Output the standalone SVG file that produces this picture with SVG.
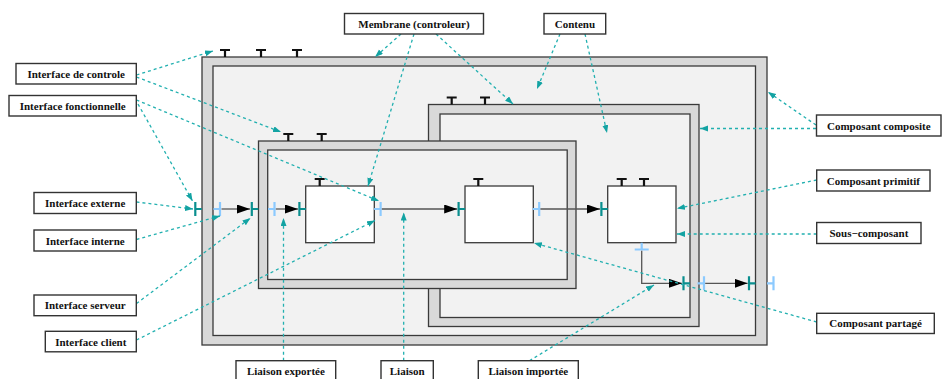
<svg xmlns="http://www.w3.org/2000/svg" width="943" height="379" viewBox="0 0 943 379">
<style>
.band{fill:#d9d9d9;stroke:#3a3a3a;stroke-width:1.3}
.inner{fill:#f2f2f2;stroke:#3a3a3a;stroke-width:1.3}
.prim{fill:#ffffff;stroke:#3a3a3a;stroke-width:1.3}
.bind{fill:none;stroke:#555;stroke-width:1.3;marker-end:url(#arr)}
.ann{fill:none;stroke:#22b0b0;stroke-width:1.3;stroke-dasharray:3,3;marker-end:url(#tarr)}
.lbl{fill:#fff;stroke:#333;stroke-width:1.4}
.txt{font-family:"Liberation Serif","Times New Roman",serif;font-weight:bold;font-size:11px;fill:#111;text-anchor:middle}
.srv{stroke:#0a8f8f;stroke-width:2.2;fill:none}
.cli{stroke:#8ccaff;stroke-width:2.2;fill:none}
.ctl{stroke:#111;stroke-width:2.2;fill:none}
</style>
<defs>
<marker id="arr" markerUnits="userSpaceOnUse" markerWidth="14" markerHeight="10" refX="13" refY="4.5" orient="auto">
<path d="M0,0 L13,4.5 L0,9 z" fill="#000"/>
</marker>
<marker id="tarr" markerUnits="userSpaceOnUse" markerWidth="9" markerHeight="7" refX="8" refY="3" orient="auto">
<path d="M0,0 L8,3 L0,6 z" fill="#13a3a3"/>
</marker>
<path id="ctl" class="ctl" d="M-5,0 H5 M0,0 V7"/>
<path id="srvR" class="srv" d="M0,-7 V7 M0,0 H6.5"/>
<path id="cliL" class="cli" d="M0,-7 V7 M0,0 H-6.5"/>
</defs>

<g id="composite-outer">
<rect class="band" x="202" y="57" width="565" height="288"/>
<rect class="inner" x="213" y="66" width="542.5" height="269.5"/>
<use href="#ctl" x="225" y="50"/>
<use href="#ctl" x="261" y="50"/>
<use href="#ctl" x="297" y="50"/>
</g>

<g id="composite-right">
<rect class="band" x="428.5" y="104.5" width="270.5" height="222"/>
<rect class="inner" x="440" y="114" width="250" height="203.5"/>
<use href="#ctl" x="451.7" y="97.5"/>
<use href="#ctl" x="485" y="97.5"/>
</g>

<g id="composite-middle">
<rect class="band" x="258.5" y="141" width="317.5" height="147.5"/>
<rect class="inner" x="267.7" y="150" width="299.5" height="129.5"/>
<use href="#ctl" x="288.3" y="134"/>
<use href="#ctl" x="321.7" y="134"/>
</g>

<g id="primitive-1">
<rect class="prim" x="305.7" y="186" width="68.6" height="56.7"/>
<use href="#ctl" x="319.7" y="179"/>
</g>
<g id="primitive-2">
<rect class="prim" x="465" y="186" width="68.3" height="56.7"/>
<use href="#ctl" x="478.3" y="179"/>
</g>
<g id="primitive-3">
<rect class="prim" x="607.7" y="186" width="68.3" height="56.7"/>
<use href="#ctl" x="621.7" y="179"/>
<use href="#ctl" x="644" y="179"/>
</g>

<g id="interfaces">
<use href="#srvR" x="195.3" y="209"/>
<use href="#cliL" x="220" y="209"/>
<use href="#srvR" x="251.8" y="209"/>
<use href="#cliL" x="274.5" y="209"/>
<use href="#srvR" x="299.4" y="209"/>
<use href="#cliL" x="380.6" y="209"/>
<use href="#srvR" x="458.6" y="209"/>
<use href="#cliL" x="539.2" y="209"/>
<use href="#srvR" x="601.4" y="209"/>
<path class="cli" d="M634.7,249.5 H648.7 M641.7,242.7 V249.5"/>
<use href="#srvR" x="683.5" y="283.3"/>
<use href="#cliL" x="704" y="283.3"/>
<use href="#srvR" x="749" y="283.3"/>
<use href="#cliL" x="773.5" y="283.3"/>
</g>

<g id="connectors">
<path class="bind" d="M221.5,209 H250"/>
<path class="bind" d="M275.8,209 H298"/>
<path class="bind" d="M381.8,209 H457.2"/>
<path class="bind" d="M540.4,209 H600"/>
<path class="bind" d="M641.7,250.7 V283.3 H682"/>
<path class="bind" d="M705.2,283.3 H747.6"/>
</g>

<g id="annotations">
<path class="ann" d="M136.5,75 L213,51"/>
<path class="ann" d="M136.5,77 L281,132"/>
<path class="ann" d="M136.5,100 L379,201"/>
<path class="ann" d="M138,104 L192.5,201"/>
<path class="ann" d="M401,34 L375,57"/>
<path class="ann" d="M414,34 L368,186"/>
<path class="ann" d="M436,34 L513,104"/>
<path class="ann" d="M560,34 L537,89"/>
<path class="ann" d="M585,34 L607,133"/>
<path class="ann" d="M816,125 L768,92"/>
<path class="ann" d="M816,128.5 L700,128.5"/>
<path class="ann" d="M816.7,180 L677,208.5"/>
<path class="ann" d="M816.7,234 L677,234"/>
<path class="ann" d="M816.7,322 L534,243"/>
<path class="ann" d="M136.5,202 L193,209"/>
<path class="ann" d="M136.5,239.5 L220,216"/>
<path class="ann" d="M136.5,303.5 L250.5,218"/>
<path class="ann" d="M136.5,340 L375,220.5"/>
<path class="ann" d="M283.5,360.7 V218"/>
<path class="ann" d="M403.7,360.7 V212.5"/>
<path class="ann" d="M529.5,360.7 L654,285"/>
</g>

<g id="label-interface-controle"><rect class="lbl" x="16" y="63.5" width="120.3" height="20.5"/><text class="txt" x="76.2" y="77.8">Interface de controle</text></g>
<g id="label-interface-fonctionnelle"><rect class="lbl" x="9" y="95.5" width="127.3" height="20.5"/><text class="txt" x="72.7" y="109.8">Interface fonctionnelle</text></g>
<g id="label-membrane"><rect class="lbl" x="344.5" y="13.5" width="139" height="20.5"/><text class="txt" x="414" y="27.8">Membrane (controleur)</text></g>
<g id="label-contenu"><rect class="lbl" x="544" y="13.5" width="61.7" height="20.5"/><text class="txt" x="574.9" y="27.8">Contenu</text></g>
<g id="label-composant-composite"><rect class="lbl" x="816.5" y="115" width="124.5" height="21"/><text class="txt" x="878.8" y="129.5">Composant composite</text></g>
<g id="label-composant-primitif"><rect class="lbl" x="816.7" y="170" width="113.3" height="21"/><text class="txt" x="873.4" y="184.5">Composant primitif</text></g>
<g id="label-sous-composant"><rect class="lbl" x="816.7" y="222.5" width="104.3" height="21"/><text class="txt" x="868.9" y="237">Sous−composant</text></g>
<g id="label-interface-externe"><rect class="lbl" x="34" y="192.5" width="102.3" height="21"/><text class="txt" x="85.2" y="207">Interface externe</text></g>
<g id="label-interface-interne"><rect class="lbl" x="34" y="230" width="102.3" height="21"/><text class="txt" x="85.2" y="244.5">Interface interne</text></g>
<g id="label-interface-serveur"><rect class="lbl" x="34" y="295" width="102.3" height="20.7"/><text class="txt" x="85.2" y="309.3">Interface serveur</text></g>
<g id="label-interface-client"><rect class="lbl" x="45.3" y="331.3" width="91" height="20.5"/><text class="txt" x="90.8" y="345.6">Interface client</text></g>
<g id="label-liaison-exportee"><rect class="lbl" x="236" y="360.7" width="99.7" height="21"/><text class="txt" x="285.9" y="374.5">Liaison exportée</text></g>
<g id="label-liaison"><rect class="lbl" x="381" y="360.7" width="52.3" height="21"/><text class="txt" x="407.2" y="374.5">Liaison</text></g>
<g id="label-liaison-importee"><rect class="lbl" x="478.3" y="360.7" width="100" height="21"/><text class="txt" x="528.3" y="374.5">Liaison importée</text></g>
<g id="label-composant-partage"><rect class="lbl" x="816.7" y="313.3" width="117.6" height="20.2"/><text class="txt" x="875.5" y="327.4">Composant partagé</text></g>
</svg>
